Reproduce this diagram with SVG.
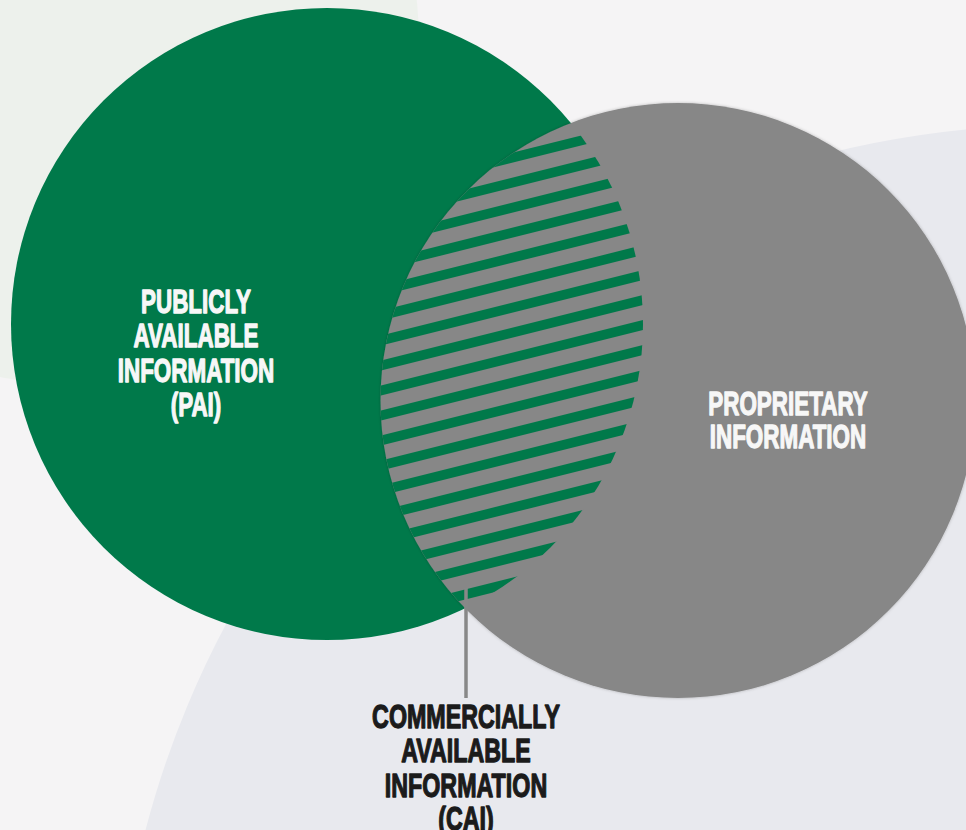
<svg xmlns="http://www.w3.org/2000/svg" width="966" height="830" viewBox="0 0 966 830">
  <style>
    .lbl { font-family: "Liberation Sans", Arial, sans-serif; font-weight: bold; text-anchor: middle; stroke-linejoin: round; }
    .white { fill: #f7f7f7; stroke: #f7f7f7; stroke-width: 1.3; font-size: 32.5px; }
    .dark { fill: #1b1b1b; stroke: #1b1b1b; stroke-width: 1.3; font-size: 33px; }
    .stripe { stroke: #00794a; stroke-width: 9.7; fill: none; }
  </style>
  <defs>
    <clipPath id="clipGreen"><circle cx="327" cy="324" r="316"/></clipPath>
    <clipPath id="clipGray"><circle cx="678" cy="400.5" r="297.5"/></clipPath>
    <filter id="soft" x="-10%" y="-10%" width="120%" height="120%">
      <feDropShadow dx="0" dy="0" stdDeviation="1.5" flood-color="#000" flood-opacity="0.25"/>
    </filter>
  </defs>

  <g id="background">
    <rect x="0" y="0" width="966" height="830" fill="#f5f4f5"/>
    <circle cx="74" cy="40" r="345" fill="#edf1ec"/>
    <circle cx="1058" cy="1068" r="943" fill="#e8e9ee"/>
  </g>

  <g id="node-pai">
    <circle cx="327" cy="324" r="316" fill="#00794a"/>
  </g>

  <g id="node-proprietary">
    <circle cx="678" cy="400.5" r="297.5" fill="#878787" filter="url(#soft)"/>
  </g>

  <g id="node-cai">
    <g clip-path="url(#clipGreen)">
      <g clip-path="url(#clipGray)">
        <line class="stripe" x1="360" y1="620.85" x2="670" y2="543.35"/>
        <line class="stripe" x1="360" y1="595.85" x2="670" y2="518.35"/>
        <line class="stripe" x1="360" y1="570.85" x2="670" y2="493.35"/>
        <line class="stripe" x1="360" y1="545.85" x2="670" y2="468.35"/>
        <line class="stripe" x1="360" y1="520.85" x2="670" y2="443.35"/>
        <line class="stripe" x1="360" y1="495.85" x2="670" y2="418.35"/>
        <line class="stripe" x1="360" y1="470.85" x2="670" y2="393.35"/>
        <line class="stripe" x1="360" y1="445.85" x2="670" y2="368.35"/>
        <line class="stripe" x1="360" y1="420.85" x2="670" y2="343.35"/>
        <line class="stripe" x1="360" y1="395.85" x2="670" y2="318.35"/>
        <line class="stripe" x1="360" y1="370.85" x2="670" y2="293.35"/>
        <line class="stripe" x1="360" y1="345.85" x2="670" y2="268.35"/>
        <line class="stripe" x1="360" y1="320.85" x2="670" y2="243.35"/>
        <line class="stripe" x1="360" y1="295.85" x2="670" y2="218.35"/>
        <line class="stripe" x1="360" y1="270.85" x2="670" y2="193.35"/>
        <line class="stripe" x1="360" y1="245.85" x2="670" y2="168.35"/>
        <line class="stripe" x1="360" y1="220.85" x2="670" y2="143.35"/>
        <line class="stripe" x1="360" y1="195.85" x2="670" y2="118.35"/>
        <line class="stripe" x1="360" y1="170.85" x2="670" y2="93.35"/>
        <line class="stripe" x1="360" y1="145.85" x2="670" y2="68.35"/>
      </g>
    </g>
  </g>

  <g id="connectors">
    <line x1="466" y1="588" x2="466" y2="698" stroke="#888888" stroke-width="3.5"/>
  </g>

  <g id="labels">
    <g id="label-pai" class="lbl white" transform="translate(196 0) scale(0.69 1)">
      <text x="0" y="313">PUBLICLY</text>
      <text x="0" y="347.3">AVAILABLE</text>
      <text x="0" y="381.6">INFORMATION</text>
      <text x="0" y="416">(PAI)</text>
    </g>
    <g id="label-proprietary" class="lbl white" transform="translate(788 0) scale(0.69 1)">
      <text x="0" y="415">PROPRIETARY</text>
      <text x="0" y="448">INFORMATION</text>
    </g>
    <g id="label-cai" class="lbl dark" transform="translate(466 0) scale(0.705 1)">
      <text x="0" y="728">COMMERCIALLY</text>
      <text x="0" y="762.3">AVAILABLE</text>
      <text x="0" y="796.6">INFORMATION</text>
      <text x="0" y="830">(CAI)</text>
    </g>
  </g>
</svg>
